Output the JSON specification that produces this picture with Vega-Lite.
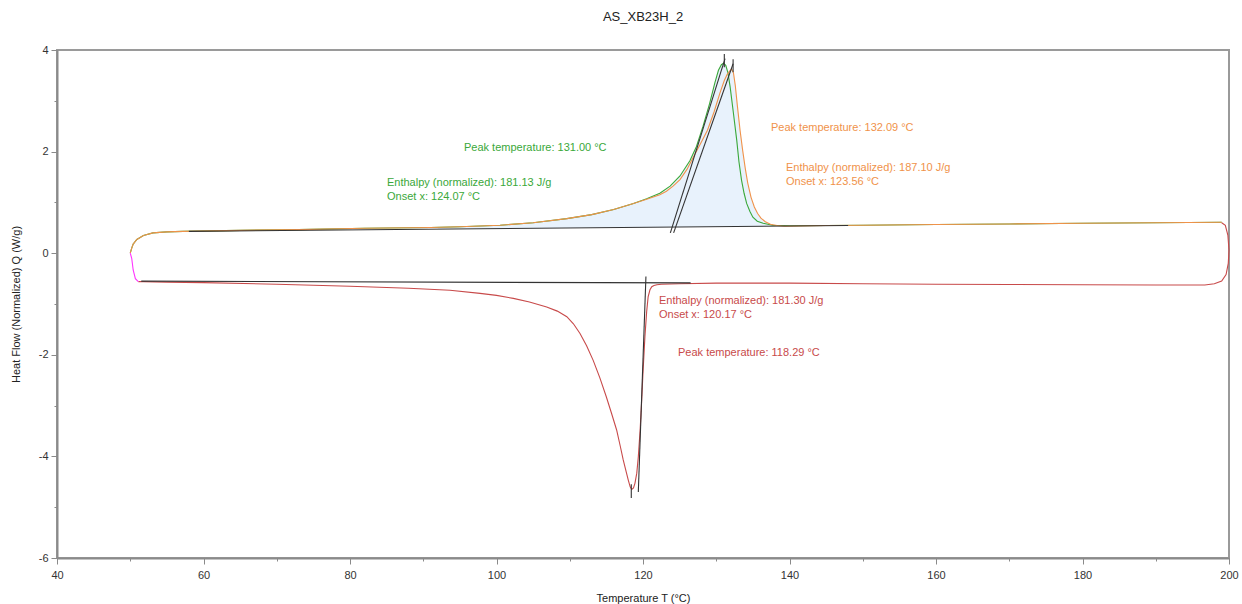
{
  "$schema": "https://vega.github.io/schema/vega-lite/v6.json",
  "width": 1172,
  "height": 508,
  "autosize": "none",
  "padding": {"left": 57, "top": 50, "right": 13, "bottom": 46},
  "background": "white",
  "config": {
    "font": "Liberation Sans",
    "view": {"stroke": "#9a9a9a", "strokeWidth": 2},
    "axis": {"grid": false, "domainColor": "#8a8a8a", "domainWidth": 2, "tickColor": "#8a8a8a", "tickWidth": 1, "labelFontSize": 11, "labelColor": "#333333", "titleFontSize": 11, "titleFontWeight": "normal", "titleColor": "#222222", "labelOverlap": false, "labelFlush": false}
  },
  "title": {"text": "AS_XB23H_2", "fontSize": 13, "fontWeight": "normal", "color": "#222222", "offset": 20, "anchor": "middle"},
  "datasets": {
    "curves": [
      {"s":"g1","c":"green","T":50,"Q":0},{"s":"g1","c":"green","T":50.2,"Q":0.1},{"s":"g1","c":"green","T":50.4,"Q":0.18},{"s":"g1","c":"green","T":50.9,"Q":0.27},{"s":"g1","c":"green","T":51.8,"Q":0.35},{"s":"g1","c":"green","T":53.1,"Q":0.4},{"s":"g1","c":"green","T":55,"Q":0.42},{"s":"g1","c":"green","T":57.2,"Q":0.43},{"s":"g1","c":"green","T":65,"Q":0.45},{"s":"g1","c":"green","T":73,"Q":0.465},{"s":"g1","c":"green","T":82,"Q":0.49},{"s":"g1","c":"green","T":91,"Q":0.505},{"s":"g1","c":"green","T":95,"Q":0.52},{"s":"g1","c":"green","T":100.5,"Q":0.55},{"s":"g1","c":"green","T":105,"Q":0.6},{"s":"g1","c":"green","T":109.6,"Q":0.68},{"s":"g1","c":"green","T":113,"Q":0.76},{"s":"g1","c":"green","T":116,"Q":0.86},{"s":"g1","c":"green","T":118.7,"Q":0.98},{"s":"g1","c":"green","T":120.5,"Q":1.07},{"s":"g1","c":"green","T":122.3,"Q":1.18},{"s":"g1","c":"green","T":123.7,"Q":1.32},{"s":"g1","c":"green","T":125.05,"Q":1.52},{"s":"g1","c":"green","T":126.4,"Q":1.82},{"s":"g1","c":"green","T":127.3,"Q":2.1},{"s":"g1","c":"green","T":128.2,"Q":2.5},{"s":"g1","c":"green","T":129.1,"Q":2.95},{"s":"g1","c":"green","T":129.8,"Q":3.35},{"s":"g1","c":"green","T":130.3,"Q":3.6},{"s":"g1","c":"green","T":130.7,"Q":3.71},{"s":"g1","c":"green","T":131,"Q":3.74},{"s":"g1","c":"green","T":131.3,"Q":3.7},{"s":"g1","c":"green","T":131.6,"Q":3.55},{"s":"g1","c":"green","T":131.9,"Q":3.27},{"s":"g1","c":"green","T":132.35,"Q":2.75},{"s":"g1","c":"green","T":132.8,"Q":2.22},{"s":"g1","c":"green","T":133.1,"Q":1.8},{"s":"g1","c":"green","T":133.45,"Q":1.44},{"s":"g1","c":"green","T":133.8,"Q":1.18},{"s":"g1","c":"green","T":134.15,"Q":0.98},{"s":"g1","c":"green","T":134.6,"Q":0.82},{"s":"g1","c":"green","T":135,"Q":0.71},{"s":"g1","c":"green","T":135.6,"Q":0.63},{"s":"g1","c":"green","T":136.4,"Q":0.59},{"s":"g1","c":"green","T":137.7,"Q":0.55},{"s":"g1","c":"green","T":140,"Q":0.54},{"s":"g1","c":"green","T":150,"Q":0.55},{"s":"g1","c":"green","T":160,"Q":0.565},{"s":"g1","c":"green","T":170,"Q":0.575},{"s":"g1","c":"green","T":180,"Q":0.59},{"s":"g1","c":"green","T":190,"Q":0.6},{"s":"g1","c":"green","T":199,"Q":0.61},
      {"s":"o1","c":"orange","T":50,"Q":0},{"s":"o1","c":"orange","T":50.2,"Q":0.1},{"s":"o1","c":"orange","T":50.4,"Q":0.18},{"s":"o1","c":"orange","T":50.9,"Q":0.27},{"s":"o1","c":"orange","T":51.8,"Q":0.35},{"s":"o1","c":"orange","T":53.1,"Q":0.4},{"s":"o1","c":"orange","T":55,"Q":0.42},{"s":"o1","c":"orange","T":57.2,"Q":0.43},{"s":"o1","c":"orange","T":65,"Q":0.45},{"s":"o1","c":"orange","T":73,"Q":0.465},{"s":"o1","c":"orange","T":82,"Q":0.49},{"s":"o1","c":"orange","T":91,"Q":0.505},{"s":"o1","c":"orange","T":95,"Q":0.52},{"s":"o1","c":"orange","T":100.5,"Q":0.55},{"s":"o1","c":"orange","T":105,"Q":0.6},{"s":"o1","c":"orange","T":109.6,"Q":0.68},{"s":"o1","c":"orange","T":113,"Q":0.76},{"s":"o1","c":"orange","T":116,"Q":0.86},{"s":"o1","c":"orange","T":118.7,"Q":0.98},{"s":"o1","c":"orange","T":120.5,"Q":1.06},{"s":"o1","c":"orange","T":122.3,"Q":1.15},{"s":"o1","c":"orange","T":123.2,"Q":1.22},{"s":"o1","c":"orange","T":124.1,"Q":1.32},{"s":"o1","c":"orange","T":125.05,"Q":1.45},{"s":"o1","c":"orange","T":126,"Q":1.65},{"s":"o1","c":"orange","T":126.9,"Q":1.9},{"s":"o1","c":"orange","T":127.9,"Q":2.17},{"s":"o1","c":"orange","T":128.8,"Q":2.42},{"s":"o1","c":"orange","T":129.7,"Q":2.78},{"s":"o1","c":"orange","T":130.5,"Q":3.15},{"s":"o1","c":"orange","T":131.1,"Q":3.4},{"s":"o1","c":"orange","T":131.5,"Q":3.52},{"s":"o1","c":"orange","T":131.9,"Q":3.6},{"s":"o1","c":"orange","T":132.1,"Q":3.62},{"s":"o1","c":"orange","T":132.35,"Q":3.55},{"s":"o1","c":"orange","T":132.6,"Q":3.3},{"s":"o1","c":"orange","T":132.9,"Q":2.88},{"s":"o1","c":"orange","T":133.25,"Q":2.42},{"s":"o1","c":"orange","T":133.6,"Q":2.03},{"s":"o1","c":"orange","T":133.95,"Q":1.68},{"s":"o1","c":"orange","T":134.3,"Q":1.38},{"s":"o1","c":"orange","T":134.75,"Q":1.1},{"s":"o1","c":"orange","T":135.2,"Q":0.91},{"s":"o1","c":"orange","T":135.65,"Q":0.78},{"s":"o1","c":"orange","T":136.1,"Q":0.69},{"s":"o1","c":"orange","T":136.7,"Q":0.62},{"s":"o1","c":"orange","T":137.4,"Q":0.57},{"s":"o1","c":"orange","T":138.3,"Q":0.545},{"s":"o1","c":"orange","T":139.3,"Q":0.53},{"s":"o1","c":"orange","T":145,"Q":0.545},{"s":"o1","c":"orange","T":150,"Q":0.55},{"s":"o1","c":"orange","T":160,"Q":0.565},{"s":"o1","c":"orange","T":170,"Q":0.575},{"s":"o1","c":"orange","T":180,"Q":0.59},{"s":"o1","c":"orange","T":190,"Q":0.6},{"s":"o1","c":"orange","T":199,"Q":0.61},
      {"s":"r1","c":"red","T":199,"Q":0.6},{"s":"r1","c":"red","T":199.5,"Q":0.55},{"s":"r1","c":"red","T":199.85,"Q":0.35},{"s":"r1","c":"red","T":200,"Q":0.06},{"s":"r1","c":"red","T":199.9,"Q":-0.2},{"s":"r1","c":"red","T":199.6,"Q":-0.42},{"s":"r1","c":"red","T":199,"Q":-0.55},{"s":"r1","c":"red","T":198,"Q":-0.6},{"s":"r1","c":"red","T":196.7,"Q":-0.625},{"s":"r1","c":"red","T":190,"Q":-0.625},{"s":"r1","c":"red","T":180,"Q":-0.62},{"s":"r1","c":"red","T":170,"Q":-0.615},{"s":"r1","c":"red","T":160,"Q":-0.61},{"s":"r1","c":"red","T":150,"Q":-0.6},{"s":"r1","c":"red","T":140,"Q":-0.59},{"s":"r1","c":"red","T":130,"Q":-0.59},{"s":"r1","c":"red","T":125,"Q":-0.6},{"s":"r1","c":"red","T":122.5,"Q":-0.61},{"s":"r1","c":"red","T":121.9,"Q":-0.62},{"s":"r1","c":"red","T":121.5,"Q":-0.635},{"s":"r1","c":"red","T":121.2,"Q":-0.66},{"s":"r1","c":"red","T":120.95,"Q":-0.72},{"s":"r1","c":"red","T":120.7,"Q":-0.86},{"s":"r1","c":"red","T":120.5,"Q":-1.15},{"s":"r1","c":"red","T":120.26,"Q":-1.65},{"s":"r1","c":"red","T":120,"Q":-2.35},{"s":"r1","c":"red","T":119.8,"Q":-2.96},{"s":"r1","c":"red","T":119.6,"Q":-3.5},{"s":"r1","c":"red","T":119.36,"Q":-4.01},{"s":"r1","c":"red","T":119.15,"Q":-4.33},{"s":"r1","c":"red","T":118.9,"Q":-4.53},{"s":"r1","c":"red","T":118.7,"Q":-4.62},{"s":"r1","c":"red","T":118.46,"Q":-4.65},{"s":"r1","c":"red","T":118.25,"Q":-4.6},{"s":"r1","c":"red","T":118,"Q":-4.47},{"s":"r1","c":"red","T":117.7,"Q":-4.3},{"s":"r1","c":"red","T":117.3,"Q":-4.07},{"s":"r1","c":"red","T":116.9,"Q":-3.8},{"s":"r1","c":"red","T":116.4,"Q":-3.48},{"s":"r1","c":"red","T":115.7,"Q":-3.15},{"s":"r1","c":"red","T":115,"Q":-2.83},{"s":"r1","c":"red","T":114.1,"Q":-2.45},{"s":"r1","c":"red","T":113.2,"Q":-2.11},{"s":"r1","c":"red","T":112.3,"Q":-1.82},{"s":"r1","c":"red","T":111.4,"Q":-1.58},{"s":"r1","c":"red","T":110.5,"Q":-1.39},{"s":"r1","c":"red","T":109.6,"Q":-1.25},{"s":"r1","c":"red","T":108.3,"Q":-1.14},{"s":"r1","c":"red","T":106.85,"Q":-1.06},{"s":"r1","c":"red","T":104.5,"Q":-0.96},{"s":"r1","c":"red","T":102.3,"Q":-0.89},{"s":"r1","c":"red","T":100,"Q":-0.83},{"s":"r1","c":"red","T":97.75,"Q":-0.79},{"s":"r1","c":"red","T":93.65,"Q":-0.73},{"s":"r1","c":"red","T":88,"Q":-0.69},{"s":"r1","c":"red","T":80,"Q":-0.65},{"s":"r1","c":"red","T":70,"Q":-0.61},{"s":"r1","c":"red","T":60,"Q":-0.58},{"s":"r1","c":"red","T":55,"Q":-0.57},{"s":"r1","c":"red","T":51.8,"Q":-0.56},{"s":"r1","c":"red","T":51.1,"Q":-0.56},
      {"s":"p1","c":"pink","T":51.1,"Q":-0.56},{"s":"p1","c":"pink","T":50.7,"Q":-0.5},{"s":"p1","c":"pink","T":50.4,"Q":-0.33},{"s":"p1","c":"pink","T":50.2,"Q":-0.1},{"s":"p1","c":"pink","T":50,"Q":0},
      {"s":"bh","c":"black","T":58,"Q":0.43},{"s":"bh","c":"black","T":148,"Q":0.545},
      {"s":"t1","c":"black","T":123.73,"Q":0.4},{"s":"t1","c":"black","T":131.2,"Q":3.83},
      {"s":"t2","c":"black","T":124.18,"Q":0.4},{"s":"t2","c":"black","T":132.3,"Q":3.73},
      {"s":"m1","c":"black","T":131.1,"Q":3.92},{"s":"m1","c":"black","T":131.1,"Q":3.66},
      {"s":"m2","c":"black","T":132.3,"Q":3.82},{"s":"m2","c":"black","T":132.3,"Q":3.56},
      {"s":"bc","c":"black","T":51.5,"Q":-0.55},{"s":"bc","c":"black","T":126.5,"Q":-0.585},
      {"s":"tc","c":"black","T":120.4,"Q":-0.46},{"s":"tc","c":"black","T":119.36,"Q":-4.7},
      {"s":"mc","c":"black","T":118.4,"Q":-4.55},{"s":"mc","c":"black","T":118.4,"Q":-4.82}
    ],
    "fill": [
      {"T":92,"top":0.505,"bot":0.476},{"T":95,"top":0.52,"bot":0.48},{"T":100.5,"top":0.55,"bot":0.486},{"T":105,"top":0.6,"bot":0.492},{"T":109.6,"top":0.68,"bot":0.498},{"T":113,"top":0.76,"bot":0.502},{"T":116,"top":0.86,"bot":0.506},{"T":118.7,"top":0.98,"bot":0.509},{"T":120.5,"top":1.07,"bot":0.511},{"T":122.3,"top":1.18,"bot":0.513},{"T":123.7,"top":1.32,"bot":0.515},{"T":125.05,"top":1.52,"bot":0.517},{"T":126.4,"top":1.82,"bot":0.518},{"T":127.3,"top":2.1,"bot":0.519},{"T":128.2,"top":2.5,"bot":0.52},{"T":129.1,"top":2.95,"bot":0.522},{"T":129.8,"top":3.35,"bot":0.523},{"T":130.3,"top":3.6,"bot":0.523},{"T":130.7,"top":3.71,"bot":0.524},{"T":131,"top":3.74,"bot":0.524},{"T":131.3,"top":3.7,"bot":0.524},{"T":131.6,"top":3.56,"bot":0.525},{"T":131.9,"top":3.6,"bot":0.525},{"T":132.1,"top":3.62,"bot":0.525},{"T":132.35,"top":3.55,"bot":0.526},{"T":132.6,"top":3.3,"bot":0.526},{"T":132.9,"top":2.88,"bot":0.526},{"T":133.25,"top":2.42,"bot":0.527},{"T":133.6,"top":2.03,"bot":0.527},{"T":133.95,"top":1.68,"bot":0.528},{"T":134.3,"top":1.38,"bot":0.528},{"T":134.75,"top":1.1,"bot":0.529},{"T":135.2,"top":0.91,"bot":0.529},{"T":135.65,"top":0.78,"bot":0.53},{"T":136.1,"top":0.69,"bot":0.53},{"T":136.7,"top":0.62,"bot":0.531},{"T":137.4,"top":0.57,"bot":0.532},{"T":138.3,"top":0.545,"bot":0.533}
    ],
    "labels": [
      {"T":95.56,"Q":2.07,"text":"Peak temperature: 131.00 °C","c":"green"},
      {"T":85.05,"Q":1.38,"text":"Enthalpy (normalized): 181.13 J/g","c":"green"},
      {"T":85.05,"Q":1.1,"text":"Onset x: 124.07 °C","c":"green"},
      {"T":137.47,"Q":2.46,"text":"Peak temperature: 132.09 °C","c":"orange"},
      {"T":139.52,"Q":1.67,"text":"Enthalpy (normalized): 187.10 J/g","c":"orange"},
      {"T":139.52,"Q":1.4,"text":"Onset x: 123.56 °C","c":"orange"},
      {"T":122.18,"Q":-0.94,"text":"Enthalpy (normalized): 181.30 J/g","c":"red"},
      {"T":122.18,"Q":-1.22,"text":"Onset x: 120.17 °C","c":"red"},
      {"T":124.78,"Q":-1.97,"text":"Peak temperature: 118.29 °C","c":"red"}
    ]
  },
  "layer": [
    {
      "data": {"name": "fill"},
      "mark": {"type": "area", "color": "#e8f2fc", "opacity": 1},
      "encoding": {
        "x": {"field": "T", "type": "quantitative", "scale": {"domain": [40, 200], "nice": false, "zero": false},
          "axis": {"values": [40,45,50,55,60,65,70,75,80,85,90,95,100,105,110,115,120,125,130,135,140,145,150,155,160,165,170,175,180,185,190,195,200],
            "labelExpr": "datum.value % 20 === 0 ? '' + datum.value : ''",
            "tickSize": {"condition": {"test": "datum.value % 20 === 0", "value": 6}, "value": 3},
            "title": "Temperature  T  (°C)", "labelPadding": 5, "titlePadding": 12}},
        "y": {"field": "top", "type": "quantitative", "scale": {"domain": [-6, 4], "nice": false, "zero": false},
          "axis": {"values": [-6,-5.5,-5,-4.5,-4,-3.5,-3,-2.5,-2,-1.5,-1,-0.5,0,0.5,1,1.5,2,2.5,3,3.5,4],
            "labelExpr": "datum.value % 2 === 0 ? '' + datum.value : ''",
            "tickSize": {"condition": {"test": "datum.value % 2 === 0", "value": 6}, "value": 3},
            "title": "Heat Flow (Normalized)   Q   (W/g)", "labelPadding": 3, "titlePadding": 17}},
        "y2": {"field": "bot"}
      }
    },
    {
      "data": {"name": "curves"},
      "mark": {"type": "line", "strokeWidth": 1.1},
      "encoding": {
        "x": {"field": "T", "type": "quantitative"},
        "y": {"field": "Q", "type": "quantitative"},
        "detail": {"field": "s"},
        "order": {"value": null},
        "color": {"field": "c", "type": "nominal", "legend": null,
          "scale": {"domain": ["green", "orange", "red", "pink", "black"], "range": ["#3aa83a", "#f0924a", "#c84a4a", "#ff33ff", "#333333"]}}
      }
    },
    {
      "data": {"name": "labels"},
      "mark": {"type": "text", "align": "left", "baseline": "middle", "fontSize": 11, "font": "Liberation Sans"},
      "encoding": {
        "x": {"field": "T", "type": "quantitative"},
        "y": {"field": "Q", "type": "quantitative"},
        "text": {"field": "text"},
        "color": {"field": "c", "type": "nominal", "legend": null,
          "scale": {"domain": ["green", "orange", "red", "pink", "black"], "range": ["#3aa83a", "#f0924a", "#c84a4a", "#ff33ff", "#333333"]}}
      }
    }
  ]
}
